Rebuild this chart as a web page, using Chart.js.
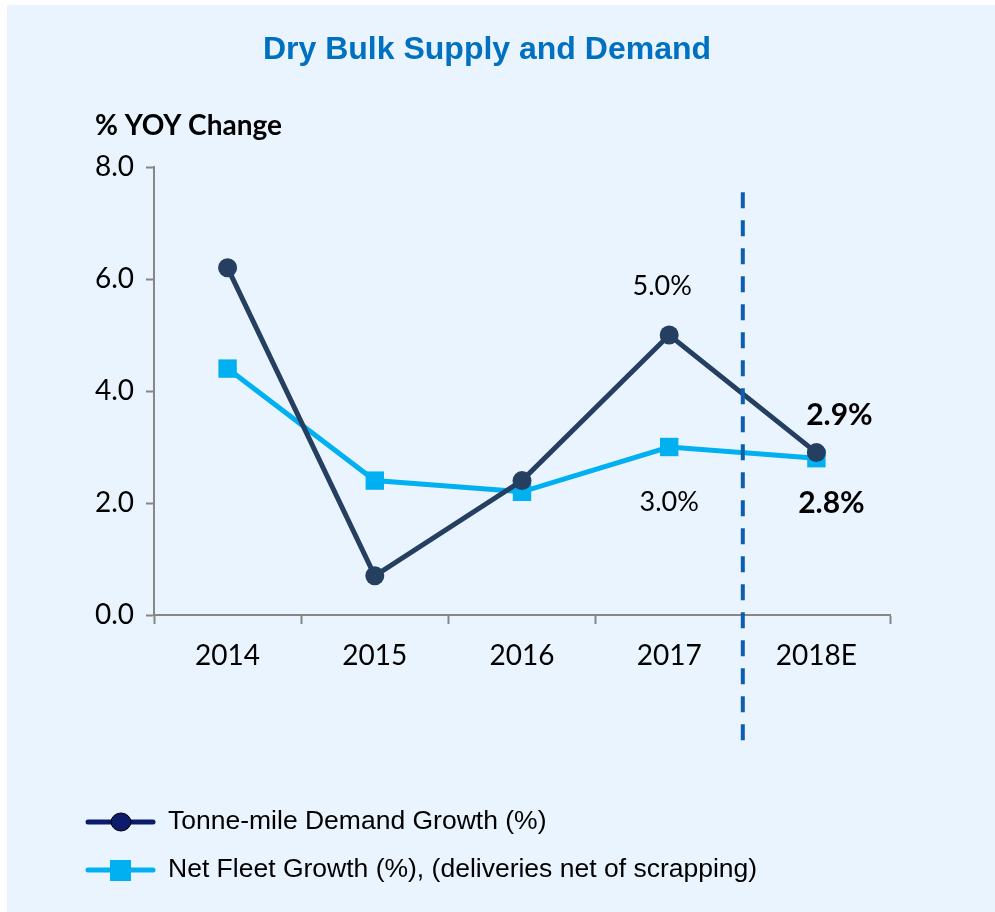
<!DOCTYPE html>
<html>
<head>
<meta charset="utf-8">
<script src="https://cdn.jsdelivr.net/npm/chart.js@4"></script>
<style>
  html, body { margin: 0; padding: 0; background: #fff; }
  #panel { position: absolute; left: 7px; top: 5px; width: 988px; height: 907px; background: #EAF4FE; }
  #wrap { position: absolute; left: 0; top: 0; width: 995px; height: 912px; }
</style>
</head>
<body>
<div id="panel"></div>
<div id="wrap"><canvas id="chartDryBulk" width="995" height="912"></canvas></div>
<script>
// datos
const categorias = ['2014', '2015', '2016', '2017', '2018E'];
const demanda = [6.2, 0.7, 2.4, 5.0, 2.9];
const flota = [4.4, 2.4, 2.2, 3.0, 2.8];
const ticksY = [0, 2, 4, 6, 8];

const tituloGrafico = 'Dry Bulk Supply and Demand';
const tituloEje = '% YOY Change';
const nombreDemanda = 'Tonne-mile Demand Growth (%)';
const nombreFlota = 'Net Fleet Growth (%), (deliveries net of scrapping)';

const fuenteCal = 'Lato, "Open Sans", sans-serif';
const fuenteArial = '"Liberation Sans", Arial, sans-serif';

// textos, etiquetas, linea punteada y leyenda
const extras = {
    id: 'extras',
    afterDraw(chart) {
        const ctx = chart.ctx;
        const x = chart.scales.x;
        const y = chart.scales.y;
        ctx.save();

        // titulo
        ctx.fillStyle = '#0070C0';
        ctx.font = 'bold 32px ' + fuenteArial;
        ctx.textAlign = 'center';
        ctx.textBaseline = 'middle';
        ctx.fillText(tituloGrafico, 487, 50);

        // titulo del eje
        ctx.fillStyle = '#000';
        ctx.font = 'bold 28px ' + fuenteCal;
        ctx.textAlign = 'left';
        ctx.fillText(tituloEje, 95, 126);

        // linea punteada entre 2017 y 2018E
        const xs = (x.getPixelForValue(3) + x.getPixelForValue(4)) / 2;
        ctx.strokeStyle = '#0D5DB0';
        ctx.lineWidth = 4;
        ctx.setLineDash([16, 12]);
        ctx.beginPath();
        ctx.moveTo(xs, y.getPixelForValue(7.55));
        ctx.lineTo(xs, y.getPixelForValue(-2.25));
        ctx.stroke();
        ctx.setLineDash([]);

        // etiquetas de datos
        ctx.fillStyle = '#000';
        ctx.textAlign = 'center';
        const etiqueta = (serie, i, dx, dy, negrita) => {
            const v = serie[i];
            ctx.font = (negrita ? 'bold 30px ' : '27px ') + fuenteCal;
            ctx.fillText(v.toFixed(1) + '%', x.getPixelForValue(i) + dx, y.getPixelForValue(v) + dy);
        };
        etiqueta(demanda, 3, -7, -49, false);
        etiqueta(flota, 3, 0, 55, false);
        etiqueta(demanda, 4, 23, -37, true);
        etiqueta(flota, 4, 15, 45, true);

        // leyenda
        const items = [
            { ds: chart.data.datasets[0], color: '#0D1B6B', y: 822 },
            { ds: chart.data.datasets[1], color: '#00B0F0', y: 870 }
        ];
        items.forEach(it => {
            ctx.strokeStyle = it.color;
            ctx.lineWidth = 5;
            ctx.lineCap = 'round';
            ctx.beginPath();
            ctx.moveTo(88, it.y);
            ctx.lineTo(153, it.y);
            ctx.stroke();
            ctx.fillStyle = it.color;
            ctx.beginPath();
            if (it.ds.pointStyle === 'circle') {
                ctx.ellipse(121, it.y, 10, 9, 0, 0, Math.PI * 2);
                ctx.fill();
                ctx.strokeStyle = '#000';
                ctx.lineWidth = 1;
                ctx.stroke();
            } else {
                ctx.fillRect(110, it.y - 10, 21, 21);
            }
            ctx.fillStyle = '#000';
            ctx.font = '26.5px ' + fuenteArial;
            ctx.textAlign = 'left';
            ctx.fillText(it.ds.label, 168, it.y);
        });
        ctx.restore();
    }
};

let ctx = document.getElementById('chartDryBulk').getContext('2d');
let chartDryBulk = new Chart(ctx, {
    type: 'line',
    data: {
        labels: categorias,
        datasets: [{
            label: nombreDemanda,
            data: demanda,
            borderColor: '#243F60',
            backgroundColor: '#243F60',
            borderWidth: 5,
            pointStyle: 'circle',
            pointRadius: 9.5,
            pointBorderWidth: 0,
            tension: 0
        }, {
            label: nombreFlota,
            data: flota,
            borderColor: '#00B0F0',
            backgroundColor: '#00B0F0',
            borderWidth: 5,
            pointStyle: 'rect',
            pointRadius: 13,
            pointBorderWidth: 0,
            tension: 0
        }]
    },
    options: {
        responsive: false,
        animation: false,
        layout: { padding: { left: 0, right: 105, top: 167, bottom: 237 } },
        plugins: {
            legend: { display: false },
            tooltip: { enabled: false }
        },
        scales: {
            x: {
                offset: true,
                afterFit: s => { s.height = 60; },
                grid: {
                    display: true,
                    drawOnChartArea: false,
                    offset: true,
                    tickLength: 9,
                    tickWidth: 2,
                    tickColor: '#868686'
                },
                border: { color: '#868686', width: 2 },
                ticks: { color: '#000', font: { family: fuenteCal, size: 28 }, padding: 15 }
            },
            y: {
                min: 0,
                max: 8,
                afterFit: s => { s.width = 154; },
                afterBuildTicks: s => { s.ticks = ticksY.map(v => ({ value: v })); },
                grid: {
                    drawOnChartArea: false,
                    tickLength: 8,
                    tickWidth: 2,
                    tickColor: '#868686'
                },
                border: { color: '#868686', width: 2 },
                ticks: {
                    color: '#000',
                    font: { family: fuenteCal, size: 28 },
                    padding: 12,
                    callback: v => v.toFixed(1)
                }
            }
        }
    },
    plugins: [extras]
});
</script>
</body>
</html>
